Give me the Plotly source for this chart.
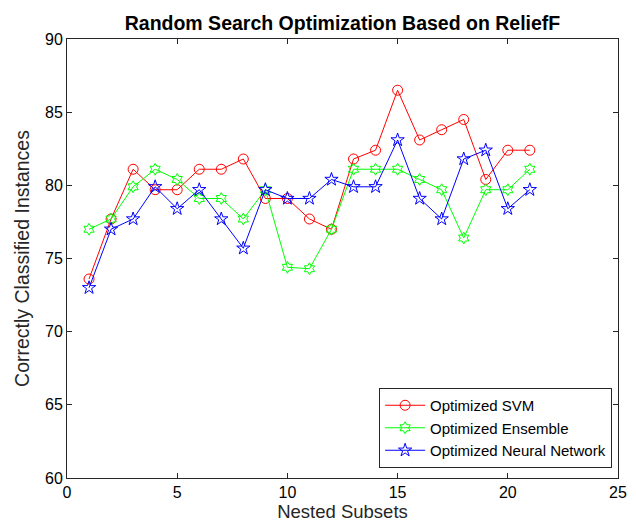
import plotly.graph_objects as go

x = list(range(1, 22))
svm = [73.6, 77.7, 81.1, 79.7, 79.7, 81.1, 81.1, 81.8, 79.1, 79.1, 77.7, 77.0,
       81.8, 82.4, 86.5, 83.1, 83.8, 84.5, 80.4, 82.4, 82.4]
ensemble = [77.0, 77.7, 79.9, 81.1, 80.4, 79.1, 79.1, 77.7, 79.7, 74.4, 74.3, 77.0,
            81.1, 81.1, 81.1, 80.4, 79.7, 76.4, 79.7, 79.7, 81.1]
nn = [73.0, 77.0, 77.7, 79.9, 78.4, 79.7, 77.7, 75.7, 79.7, 79.1, 79.1, 80.4,
      79.9, 79.9, 83.1, 79.1, 77.7, 81.8, 82.4, 78.4, 79.7]

font = "Liberation Sans, Arial, Helvetica, sans-serif"
fig = go.Figure()
fig.add_trace(go.Scatter(x=x, y=svm, mode="lines+markers", name="Optimized SVM",
                         line=dict(color="#ff0000", width=1),
                         marker=dict(symbol="circle-open", size=10, color="#ff0000", line=dict(width=1))))
fig.add_trace(go.Scatter(x=x, y=ensemble, mode="lines+markers", name="Optimized Ensemble",
                         line=dict(color="#00ff00", width=1),
                         marker=dict(symbol="hexagram-open", size=9, color="#00ff00", line=dict(width=1))))
fig.add_trace(go.Scatter(x=x, y=nn, mode="lines+markers", name="Optimized Neural Network",
                         line=dict(color="#0000ff", width=1),
                         marker=dict(symbol="star-open", size=10, color="#0000ff", line=dict(width=1))))

axis_common = dict(showline=True, linecolor="#262626", linewidth=1, mirror="ticks",
                   ticks="inside", ticklen=5, tickcolor="#262626", showgrid=False, zeroline=False,
                   tickfont=dict(family=font, size=16, color="#000000"))
fig.update_layout(
    width=636, height=529,
    margin=dict(l=67, r=9, t=39, b=51),
    paper_bgcolor="white", plot_bgcolor="white",
    title=dict(text="<b>Random Search Optimization Based on ReliefF</b>", x=0.5, xref="paper",
               xanchor="center", y=1 - 23 / 529, yref="container", yanchor="middle",
               font=dict(family=font, size=19.5, color="#000000")),
    xaxis=dict(range=[0, 25], tickvals=[0, 5, 10, 15, 20, 25],
               title=dict(text="Nested Subsets", font=dict(family=font, size=18.5, color="#262626"), standoff=4),
               **axis_common),
    yaxis=dict(range=[60, 90], tickvals=[60, 65, 70, 75, 80, 85, 90],
               title=dict(text="Correctly Classified Instances", font=dict(family=font, size=19.5, color="#262626"), standoff=10),
               **axis_common),
    legend=dict(x=(621 - 67) / 560, y=(478 - 468) / 439, xanchor="right", yanchor="bottom",
                bgcolor="white", bordercolor="#262626", borderwidth=1,
                font=dict(family=font, size=15, color="#000000"),
                itemwidth=40, tracegroupgap=0),
    showlegend=True,
)
fig.write_html("out.html")
